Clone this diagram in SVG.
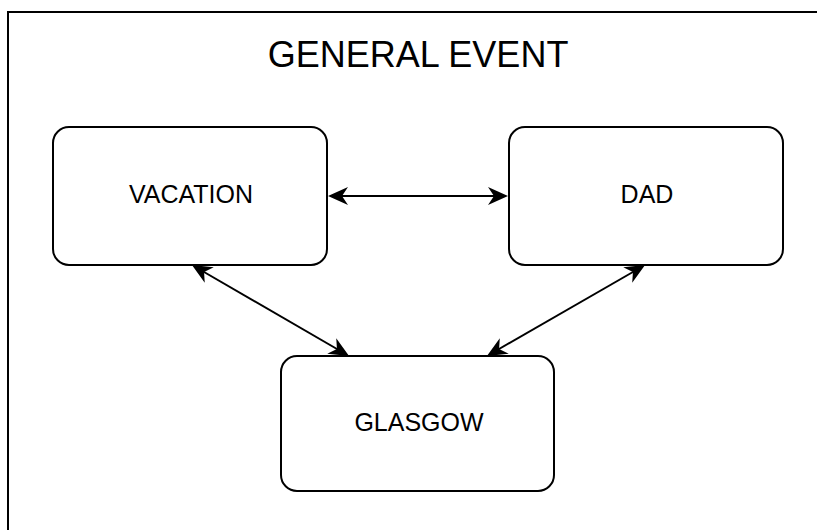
<svg xmlns="http://www.w3.org/2000/svg" width="817" height="530" viewBox="0 0 817 530">
  <style>
    .frame { fill: #ffffff; stroke: #000000; stroke-width: 2; }
    .node { fill: #ffffff; stroke: #000000; stroke-width: 2; }
    .label { font-family: "Liberation Sans", Arial, sans-serif; font-size: 25px; fill: #000000; text-anchor: middle; }
    .title { font-family: "Liberation Sans", Arial, sans-serif; font-size: 36px; fill: #000000; text-anchor: middle; }
    .link { fill: none; stroke: #000000; stroke-width: 2; marker-start: url(#arrow); marker-end: url(#arrow); }
  </style>
  <defs>
    <!-- classic swept-back arrowhead, tip 7px beyond the line end -->
    <marker id="arrow" markerUnits="userSpaceOnUse" markerWidth="22" markerHeight="20" refX="13" refY="9" orient="auto-start-reverse" overflow="visible">
      <path d="M20,9 L0,0 L6,9 L0,18 Z" fill="#000000"/>
    </marker>
  </defs>

  <rect width="817" height="530" fill="#ffffff"/>

  <!-- outer container -->
  <g id="container">
    <rect class="frame" x="8" y="12" width="860" height="560"/>
    <text class="title" x="418" y="67">GENERAL EVENT</text>
  </g>

  <g id="vacation">
    <rect class="node" x="53" y="127" width="274" height="138" rx="16" ry="16"/>
    <text class="label" x="191" y="203">VACATION</text>
  </g>

  <g id="dad">
    <rect class="node" x="509" y="127" width="274" height="138" rx="16" ry="16"/>
    <text class="label" x="647" y="203">DAD</text>
  </g>

  <g id="glasgow">
    <rect class="node" x="281" y="356" width="273" height="135" rx="16" ry="16"/>
    <text class="label" x="419" y="431">GLASGOW</text>
  </g>

  <g id="connectors">
    <!-- VACATION <-> DAD -->
    <line class="link" x1="335" y1="196" x2="501" y2="196"/>
    <!-- VACATION <-> GLASGOW -->
    <line class="link" x1="198" y1="268.5" x2="343" y2="352.5"/>
    <!-- DAD <-> GLASGOW -->
    <line class="link" x1="639" y1="268.5" x2="493" y2="352.5"/>
  </g>
</svg>
